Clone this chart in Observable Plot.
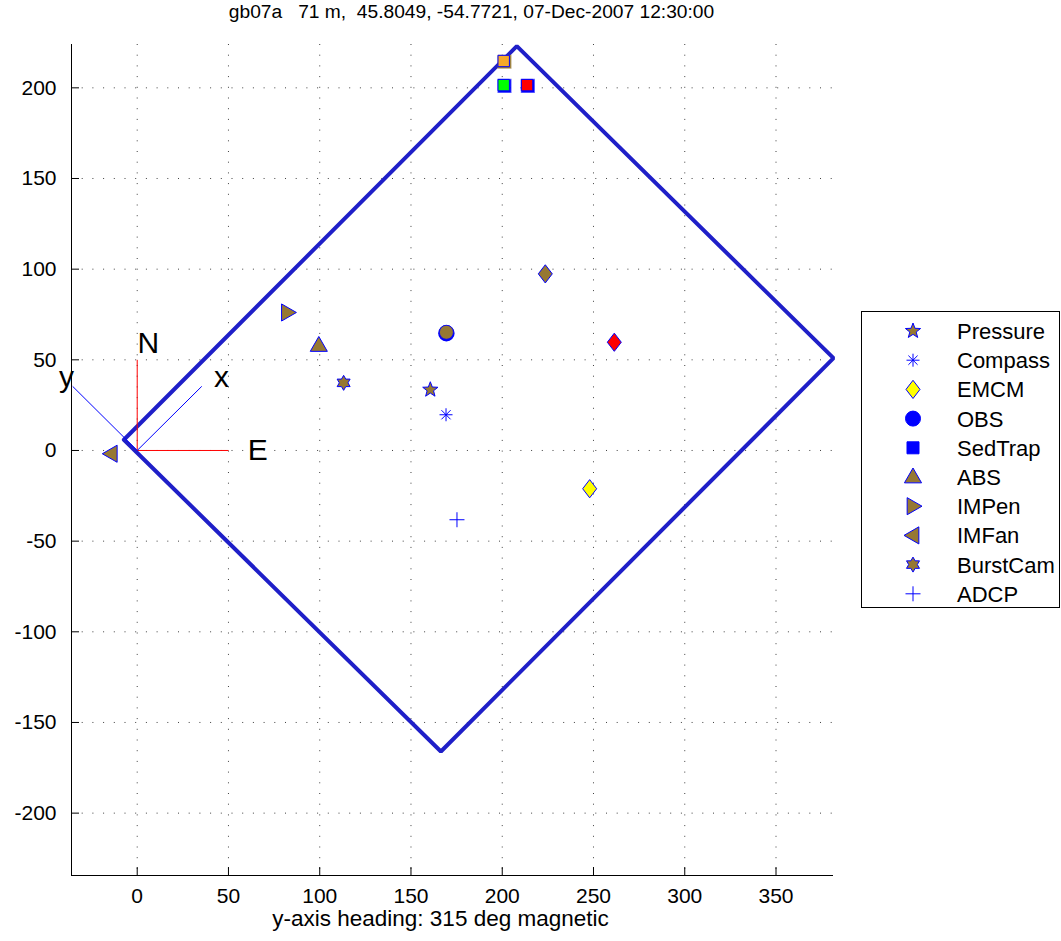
<!DOCTYPE html>
<html><head><meta charset="utf-8">
<script src="https://cdn.jsdelivr.net/npm/d3@7"></script>
<script src="https://cdn.jsdelivr.net/npm/@observablehq/plot@0.6"></script>
<style>
body{margin:0;background:#fff;font-family:"Liberation Sans",Arial,Helvetica,sans-serif;}
#wrap{position:relative;width:1061px;height:941px;}
#legend{position:absolute;left:861px;top:311px;width:197px;height:295px;border:1px solid #000;background:#fff;}
</style></head><body><div id="wrap"><div id="chart"></div><div id="legend"></div></div>
<script>
// ---- data ----
const titleText = "gb07a   71 m,  45.8049, -54.7721, 07-Dec-2007 12:30:00";
const xLabelText = "y-axis heading: 315 deg magnetic";
const xTicks = [0, 50, 100, 150, 200, 250, 300, 350];
const yTicks = [-200, -150, -100, -50, 0, 50, 100, 150, 200];
const xDom = [-36, 381.5];
const yDom = [-234.4, 223.9];

// frame (tripod footprint)
const boxX = [-7.3, 208, 381.5, 166.4, -7.3];
const boxY = [5.9, 223, 50.9, -166, 5.9];

// compass rose lines: N/E (red) and instrument x/y (blue)
const neX2 = [0, 50], neY2 = [50, 0];
const xyX2 = [35.36, -35.36], xyY2 = [35.36, 35.36];
const roseText = ["N", "E", "x", "y"];
const roseTextX = [6.1, 66, 46.2, -38.7];
const roseTextY = [59.3, 0, 40.4, 40.4];

// instruments
const pressureX = [160.6], pressureY = [33.5];
const compassX = [169.2], compassY = [19.7];
const emcmX = [247.9, 261.4, 223.6], emcmY = [-21.1, 59.7, 97.4], emcmFill = ["#ffff00", "#ff0000", "#967832"];
const obsX = [169.4], obsY = [65.2], obsFill = ["#967832"];
const sedX = [200.8, 200.8, 213.6], sedY = [214.8, 201.5, 201.5], sedFill = ["#f7a928", "#00ff00", "#ff0000"], sedBack = ["#967832", "#0000ff", "#0000ff"];
const absX = [99.5], absY = [57.9];
const impenX = [82.3], impenY = [76.1];
const imfanX = [-14.2], imfanY = [-1.8];
const burstX = [113.1], burstY = [37.3];
const adcpX = [175.2], adcpY = [-38.2];

const legendLabels = ["Pressure", "Compass", "EMCM", "OBS", "SedTrap", "ABS", "IMPen", "IMFan", "BurstCam", "ADCP"];

// ---- symbols ----
const BROWN = "#967832", BLUE = "#0000ff";
const S = f => ({draw(c, size) { f(c, Math.sqrt(size / Math.PI)); }});
const poly = (c, pts) => { pts.forEach(([x, y], i) => i ? c.lineTo(x, y) : c.moveTo(x, y)); c.closePath(); };
const symStar5 = S((c, R) => poly(c, d3.range(10).map(i => { const r = i % 2 ? R * 0.42 : R, a = -Math.PI / 2 + i * Math.PI / 5; return [r * Math.cos(a), r * Math.sin(a)]; })));
const symHex = S((c, R) => poly(c, d3.range(12).map(i => { const r = i % 2 ? R / Math.sqrt(3) : R, a = -Math.PI / 2 + i * Math.PI / 6; return [r * Math.cos(a), r * Math.sin(a)]; })));
const symAst = S((c, R) => { for (let k = 0; k < 4; k++) { const a = k * Math.PI / 4; c.moveTo(R * Math.cos(a), R * Math.sin(a)); c.lineTo(-R * Math.cos(a), -R * Math.sin(a)); } });
const symPlus = S((c, R) => { c.moveTo(-R, 0); c.lineTo(R, 0); c.moveTo(0, -R); c.lineTo(0, R); });
const symDiamond = S((c, R) => poly(c, [[0, -1.3 * R], [R, 0], [0, 1.3 * R], [-R, 0]]));
const symSquare = S((c, R) => poly(c, [[-R, -R], [R, -R], [R, R], [-R, R]]));
const symCircle = S((c, R) => { c.moveTo(R, 0); c.arc(0, 0, R, 0, 2 * Math.PI); c.closePath(); });
const symTriUp = S((c, R) => poly(c, [[0, -R], [0.95 * R, 0.65 * R], [-0.95 * R, 0.65 * R]]));
const symTriRight = S((c, R) => poly(c, [[R, 0], [-0.65 * R, -0.95 * R], [-0.65 * R, 0.95 * R]]));
const symTriLeft = S((c, R) => poly(c, [[-R, 0], [0.65 * R, -0.95 * R], [0.65 * R, 0.95 * R]]));

const legendSpec = [
  {sym: symStar5, r: 8, fill: BROWN, stroke: BLUE},
  {sym: symAst, r: 6.5, fill: "none", stroke: BLUE},
  {sym: symDiamond, r: 7, fill: "#ffff00", stroke: BLUE},
  {sym: symCircle, r: 7.5, fill: BLUE, stroke: BLUE},
  {sym: symSquare, r: 6, fill: BLUE, stroke: BLUE},
  {sym: symTriUp, r: 9, fill: BROWN, stroke: BLUE},
  {sym: symTriRight, r: 9, fill: BROWN, stroke: BLUE},
  {sym: symTriLeft, r: 9, fill: BROWN, stroke: BLUE},
  {sym: symHex, r: 7.5, fill: BROWN, stroke: BLUE},
  {sym: symPlus, r: 7.5, fill: "none", stroke: BLUE}
];

const pts = (xs, ys, extra = {}) => xs.map((x, i) => ({x, y: ys[i], ...Object.fromEntries(Object.entries(extra).map(([k, v]) => [k, v[i]]))}));
const FONT = '"Liberation Sans", Arial, Helvetica, sans-serif';
const gridStyle = {stroke: "#000", strokeOpacity: 0.75, strokeDasharray: "1,9.7"};

const neLines = neX2.map((x2, i) => ({x1: 0, y1: 0, x2, y2: neY2[i]}));
const xyLines = xyX2.map((x2, i) => ({x1: 0, y1: 0, x2, y2: xyY2[i]}));
const roseLabels = roseText.map((t, i) => ({t, x: roseTextX[i], y: roseTextY[i]}));

const chart = Plot.plot({
  width: 1061, height: 941,
  marginLeft: 71, marginRight: 228, marginTop: 44, marginBottom: 66,
  x: {domain: xDom}, y: {domain: yDom},
  color: {type: "identity"},
  style: {fontFamily: FONT, fontSize: "21px", background: "#fff", color: "#000"},
  marks: [
    Plot.gridX(xTicks, gridStyle),
    Plot.gridY(yTicks, gridStyle),
    Plot.ruleX([xDom[0]], {stroke: "#000", strokeWidth: 1}),
    Plot.ruleY([yDom[0]], {stroke: "#000", strokeWidth: 1}),
    Plot.axisX(xTicks, {tickSize: -8, tickPadding: 21, tickFormat: d => String(d), label: null, fontSize: 21}),
    Plot.axisY(yTicks, {tickSize: -8, tickPadding: 23, tickFormat: d => String(d), label: null, fontSize: 21}),
    Plot.line(pts(boxX, boxY), {x: "x", y: "y", stroke: "#1f1fc8", strokeWidth: 4, strokeLinejoin: "miter"}),
    Plot.link(neLines, {x1: "x1", y1: "y1", x2: "x2", y2: "y2", stroke: "#ff0000", strokeWidth: 1}),
    Plot.link(xyLines, {x1: "x1", y1: "y1", x2: "x2", y2: "y2", stroke: "#0000ff", strokeWidth: 1}),
    Plot.text(roseLabels, {x: "x", y: "y", text: "t", fontSize: 30, fill: "#000"}),
    // markers
    Plot.dot(pts(pressureX, pressureY), {x: "x", y: "y", symbol: symStar5, r: 8, fill: BROWN, stroke: BLUE, strokeWidth: 1}),
    Plot.dot(pts(compassX, compassY), {x: "x", y: "y", symbol: symAst, r: 6.5, fill: "none", stroke: BLUE, strokeWidth: 1}),
    Plot.dot(pts(emcmX, emcmY, {f: emcmFill}), {x: "x", y: "y", symbol: symDiamond, r: 7, fill: "f", stroke: BLUE, strokeWidth: 1}),
    Plot.dot(pts(obsX, obsY), {x: "x", y: "y", symbol: symCircle, r: 7.5, fill: BLUE, stroke: BLUE, dy: 1}),
    Plot.dot(pts(obsX, obsY, {f: obsFill}), {x: "x", y: "y", symbol: symCircle, r: 7, fill: "f", stroke: BLUE, strokeWidth: 0.8}),
    Plot.dot(pts(sedX, sedY, {f: sedBack}), {x: "x", y: "y", symbol: symSquare, r: 6.3, fill: "f", stroke: "f", strokeOpacity: 0.6, dx: 0.8, dy: 0.8}),
    Plot.dot(pts(sedX, sedY, {f: sedFill}), {x: "x", y: "y", symbol: symSquare, r: 5.7, fill: "f", stroke: BLUE, strokeWidth: 1}),
    Plot.dot(pts(absX, absY), {x: "x", y: "y", symbol: symTriUp, r: 9, fill: BROWN, stroke: BLUE, strokeWidth: 1}),
    Plot.dot(pts(impenX, impenY), {x: "x", y: "y", symbol: symTriRight, r: 9, fill: BROWN, stroke: BLUE, strokeWidth: 1}),
    Plot.dot(pts(imfanX, imfanY), {x: "x", y: "y", symbol: symTriLeft, r: 9, fill: BROWN, stroke: BLUE, strokeWidth: 1}),
    Plot.dot(pts(burstX, burstY), {x: "x", y: "y", symbol: symHex, r: 7.5, fill: BROWN, stroke: BLUE, strokeWidth: 1}),
    Plot.dot(pts(adcpX, adcpY), {x: "x", y: "y", symbol: symPlus, r: 7.5, fill: "none", stroke: BLUE, strokeWidth: 1}),
    // title and x label
    Plot.text([titleText], {frameAnchor: "top", dy: -40, dx: 19, fontSize: 19.2, fill: "#000"}),
    Plot.text([xLabelText], {frameAnchor: "bottom", dy: 50, dx: -12, fontSize: 22.5, fill: "#000"})
  ]
});
document.getElementById("chart").appendChild(chart);

// ---- legend ----
const lg = d3.select("#legend").append("svg").attr("width", 197).attr("height", 295)
  .style("font-family", FONT);
legendLabels.forEach((lab, i) => {
  const s = legendSpec[i];
  const cy = 19 + 29.2 * i;
  lg.append("path")
    .attr("d", d3.symbol(s.sym, Math.PI * s.r * s.r)())
    .attr("transform", `translate(51,${cy})`)
    .attr("fill", s.fill).attr("stroke", s.stroke).attr("stroke-width", 1);
  lg.append("text").attr("x", 95).attr("y", cy).attr("dy", "0.36em")
    .attr("font-size", 22).attr("fill", "#000").text(lab);
});
</script></body></html>
